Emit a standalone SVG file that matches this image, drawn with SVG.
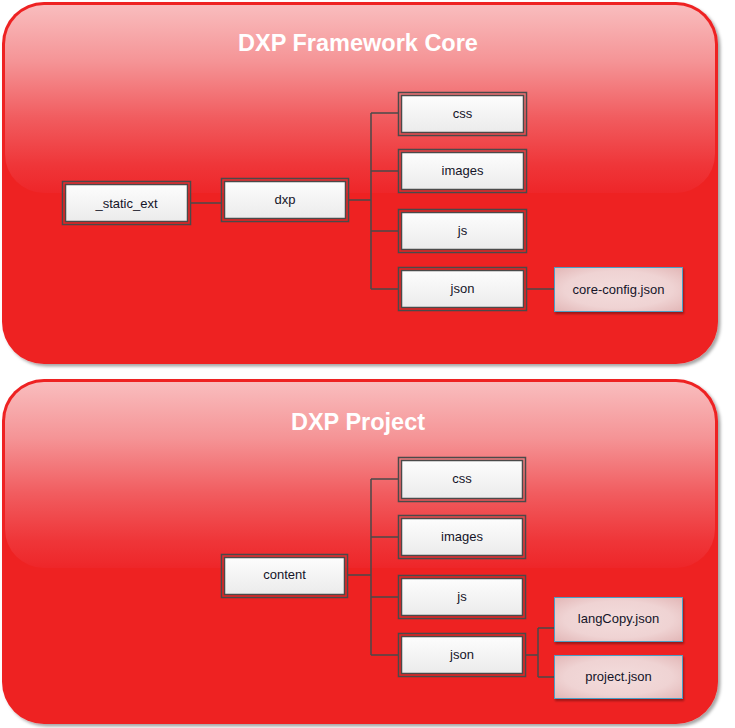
<svg xmlns="http://www.w3.org/2000/svg" width="735" height="728" viewBox="0 0 735 728">
<defs>
  <linearGradient id="gloss" x1="0" y1="0" x2="0" y2="1">
    <stop offset="0" stop-color="#f9bdbe"/>
    <stop offset="0.3" stop-color="#f59496"/>
    <stop offset="0.6" stop-color="#f15c5f"/>
    <stop offset="0.85" stop-color="#ef3639"/>
    <stop offset="1" stop-color="#ee2629"/>
  </linearGradient>
  <linearGradient id="boxfill" x1="0" y1="0" x2="0" y2="1">
    <stop offset="0" stop-color="#fdfdfd"/>
    <stop offset="1" stop-color="#ebebeb"/>
  </linearGradient>
  <radialGradient id="leaffill" cx="0.5" cy="0.5" r="0.7">
    <stop offset="0" stop-color="#f3dcdc"/>
    <stop offset="0.6" stop-color="#efd3d3"/>
    <stop offset="1" stop-color="#e2b6b6"/>
  </radialGradient>
  <filter id="shadow" x="-5%" y="-5%" width="110%" height="110%">
    <feDropShadow dx="2.5" dy="2.5" stdDeviation="1.5" flood-color="#000" flood-opacity="0.35"/>
  </filter>
  <filter id="leafshadow" x="-10%" y="-10%" width="120%" height="130%">
    <feDropShadow dx="1" dy="2" stdDeviation="1.2" flood-color="#000" flood-opacity="0.35"/>
  </filter>
</defs>
<style>
  .container { fill: #ee2124; }
  .gloss { fill: url(#gloss); }
  .title { font-family: "Liberation Sans", Arial, sans-serif; font-weight: bold; font-size: 23.5px; fill: #ffffff; text-anchor: middle; }
  .outer { fill: none; stroke: #4a4a4a; stroke-width: 1.5; }
  .inner { fill: url(#boxfill); stroke: #4a4a4a; stroke-width: 1.5; }
  .leaf { fill: url(#leaffill); stroke: #4b9fc6; stroke-width: 1; filter: url(#leafshadow); }
  .label { font-family: "Liberation Sans", Arial, sans-serif; font-size: 13px; fill: #141428; text-anchor: middle; }
  .conn { fill: none; stroke: #4a4a4a; stroke-width: 1.5; }
</style>

<g id="framework-core">
  <rect class="container" x="2" y="2" width="716" height="362" rx="42" filter="url(#shadow)"/>
  <rect class="gloss" x="5" y="5" width="710" height="188" rx="39"/>
  <text class="title" x="358" y="51">DXP Framework Core</text>
</g>

<g id="project">
  <rect class="container" x="2" y="379" width="716" height="345" rx="42" filter="url(#shadow)"/>
  <rect class="gloss" x="5" y="382" width="710" height="186" rx="39"/>
  <text class="title" x="358" y="430">DXP Project</text>
</g>

<g id="connectors">
  <path class="conn" d="M191 203 H221"/>
  <path class="conn" d="M349 200 H371 M371 113 V289 M371 113 H398 M371 171 H398 M371 231 H398 M371 289 H398"/>
  <path class="conn" d="M527 289 H554"/>
  <path class="conn" d="M348 575 H371 M371 479 V655 M371 479 H398 M371 537 H398 M371 597 H398 M371 655 H398"/>
  <path class="conn" d="M526 655 H538 M538 628 V677 M538 628 H554 M538 677 H554"/>
</g>

<g id="n-static-ext">
  <rect class="outer" x="62.5" y="181.5" width="128" height="43"/>
  <rect class="inner" x="65.5" y="184.5" width="122" height="37"/>
  <text class="label" x="126.5" y="207.5">_static_ext</text>
</g>
<g id="n-dxp">
  <rect class="outer" x="221.5" y="178.5" width="127" height="43"/>
  <rect class="inner" x="224.5" y="181.5" width="121" height="37"/>
  <text class="label" x="285" y="204">dxp</text>
</g>
<g id="n-core-css">
  <rect class="outer" x="398.5" y="92.5" width="128" height="43"/>
  <rect class="inner" x="401.5" y="95.5" width="122" height="37"/>
  <text class="label" x="462.5" y="117.5">css</text>
</g>
<g id="n-core-images">
  <rect class="outer" x="398.5" y="149.5" width="128" height="43"/>
  <rect class="inner" x="401.5" y="152.5" width="122" height="37"/>
  <text class="label" x="462.5" y="175">images</text>
</g>
<g id="n-core-js">
  <rect class="outer" x="398.5" y="209.5" width="128" height="43"/>
  <rect class="inner" x="401.5" y="212.5" width="122" height="37"/>
  <text class="label" x="462.5" y="235">js</text>
</g>
<g id="n-core-json">
  <rect class="outer" x="398.5" y="267.5" width="128" height="43"/>
  <rect class="inner" x="401.5" y="270.5" width="122" height="37"/>
  <text class="label" x="462.5" y="293">json</text>
</g>
<g id="n-core-config">
  <rect class="leaf" x="554.5" y="267.5" width="128" height="44"/>
  <text class="label" x="618.5" y="293.5">core-config.json</text>
</g>

<g id="n-content">
  <rect class="outer" x="221.5" y="554.5" width="126" height="43"/>
  <rect class="inner" x="224.5" y="557.5" width="120" height="37"/>
  <text class="label" x="284.5" y="578.5">content</text>
</g>
<g id="n-proj-css">
  <rect class="outer" x="398.5" y="457.5" width="127" height="44"/>
  <rect class="inner" x="401.5" y="460.5" width="121" height="38"/>
  <text class="label" x="462" y="482.5">css</text>
</g>
<g id="n-proj-images">
  <rect class="outer" x="398.5" y="515.5" width="127" height="43"/>
  <rect class="inner" x="401.5" y="518.5" width="121" height="37"/>
  <text class="label" x="462" y="540.5">images</text>
</g>
<g id="n-proj-js">
  <rect class="outer" x="398.5" y="575.5" width="127" height="43"/>
  <rect class="inner" x="401.5" y="578.5" width="121" height="37"/>
  <text class="label" x="462" y="600.5">js</text>
</g>
<g id="n-proj-json">
  <rect class="outer" x="398.5" y="633.5" width="127" height="43"/>
  <rect class="inner" x="401.5" y="636.5" width="121" height="37"/>
  <text class="label" x="462" y="658.5">json</text>
</g>
<g id="n-langcopy">
  <rect class="leaf" x="554.5" y="597.5" width="128" height="44"/>
  <text class="label" x="618.5" y="623">langCopy.json</text>
</g>
<g id="n-project-json">
  <rect class="leaf" x="554.5" y="655.5" width="128" height="43"/>
  <text class="label" x="618.5" y="681">project.json</text>
</g>
</svg>
